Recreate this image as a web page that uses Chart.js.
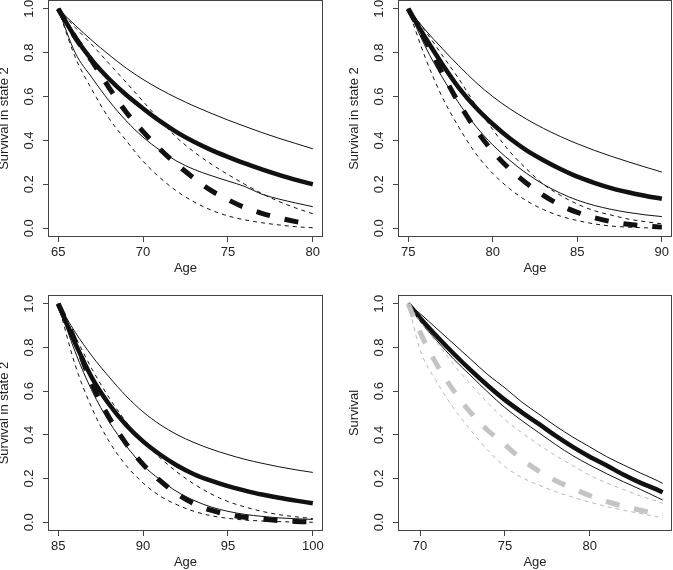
<!DOCTYPE html>
<html>
<head>
<meta charset="utf-8">
<script src="https://cdn.jsdelivr.net/npm/chart.js@4.4.1/dist/chart.umd.min.js"></script>
<style>
  html, body { margin: 0; padding: 0; background: #fff; }
  #wrap { position: relative; width: 673px; height: 570px; overflow: hidden; background: #fff; }
  #wrap canvas { position: absolute; }
</style>
</head>
<body>
<div id="wrap">
  <canvas id="p1"></canvas>
  <canvas id="p2"></canvas>
  <canvas id="p3"></canvas>
  <canvas id="p4"></canvas>
</div>
<script>
// --- Data ---
const yTicks = [0, 0.2, 0.4, 0.6, 0.8, 1.0];

// Panel 1: entry at 65
const p1Ages = [65, 66, 67, 68, 69, 70, 71, 72, 73, 74, 75, 76, 77, 78, 79, 80];
const p1XTicks = [65, 70, 75, 80];
const p1Upper = [1, 0.925, 0.855, 0.79, 0.73, 0.678, 0.633, 0.593, 0.557, 0.524, 0.493, 0.464, 0.436, 0.41, 0.386, 0.362];
const p1Est = [1, 0.87, 0.765, 0.68, 0.608, 0.546, 0.488, 0.437, 0.394, 0.357, 0.325, 0.295, 0.268, 0.243, 0.22, 0.2];
const p1Lower = [1, 0.80, 0.685, 0.58, 0.49, 0.415, 0.355, 0.305, 0.268, 0.24, 0.215, 0.19, 0.155, 0.133, 0.115, 0.098];
const p1Alt = [1, 0.87, 0.76, 0.64, 0.53, 0.44, 0.36, 0.29, 0.228, 0.172, 0.13, 0.094, 0.068, 0.047, 0.03, 0.02];
const p1AltUpper = [1, 0.915, 0.835, 0.75, 0.665, 0.578, 0.492, 0.412, 0.348, 0.293, 0.245, 0.2, 0.158, 0.122, 0.092, 0.066];
const p1AltLower = [1, 0.78, 0.63, 0.50, 0.40, 0.305, 0.23, 0.168, 0.12, 0.083, 0.056, 0.038, 0.025, 0.015, 0.007, 0.002];

// Panel 2: entry at 75
const p2Ages = [75, 76, 77, 78, 79, 80, 81, 82, 83, 84, 85, 86, 87, 88, 89, 90];
const p2XTicks = [75, 80, 85, 90];
const p2Upper = [1, 0.905, 0.82, 0.74, 0.665, 0.6, 0.545, 0.497, 0.455, 0.418, 0.385, 0.355, 0.328, 0.303, 0.279, 0.256];
const p2Est = [1, 0.87, 0.75, 0.64, 0.55, 0.475, 0.41, 0.355, 0.31, 0.27, 0.235, 0.207, 0.183, 0.164, 0.148, 0.134];
const p2Lower = [1, 0.83, 0.69, 0.57, 0.465, 0.38, 0.31, 0.25, 0.20, 0.16, 0.128, 0.104, 0.086, 0.072, 0.061, 0.053];
const p2Alt = [1, 0.86, 0.71, 0.57, 0.45, 0.35, 0.27, 0.205, 0.15, 0.105, 0.072, 0.048, 0.03, 0.018, 0.01, 0.005];
const p2AltUpper = [1, 0.90, 0.79, 0.68, 0.56, 0.45, 0.35, 0.27, 0.20, 0.15, 0.11, 0.08, 0.06, 0.042, 0.03, 0.02];
const p2AltLower = [1, 0.78, 0.60, 0.46, 0.34, 0.25, 0.18, 0.125, 0.085, 0.055, 0.035, 0.02, 0.01, 0.005, 0.002, 0];

// Panel 3: entry at 85
const p3Ages = [85, 86, 87, 88, 89, 90, 91, 92, 93, 94, 95, 96, 97, 98, 99, 100];
const p3XTicks = [85, 90, 95, 100];
const p3Upper = [1, 0.87, 0.76, 0.665, 0.578, 0.505, 0.447, 0.401, 0.365, 0.335, 0.31, 0.288, 0.27, 0.254, 0.24, 0.228];
const p3Est = [1, 0.82, 0.66, 0.54, 0.445, 0.37, 0.31, 0.26, 0.22, 0.19, 0.165, 0.145, 0.127, 0.112, 0.099, 0.087];
const p3Lower = [1, 0.78, 0.60, 0.46, 0.35, 0.26, 0.195, 0.14, 0.10, 0.07, 0.05, 0.036, 0.027, 0.02, 0.016, 0.013];
const p3Alt = [1, 0.83, 0.63, 0.48, 0.36, 0.265, 0.19, 0.13, 0.085, 0.055, 0.036, 0.023, 0.014, 0.008, 0.004, 0.002];
const p3AltUpper = [1, 0.85, 0.70, 0.57, 0.46, 0.37, 0.295, 0.23, 0.175, 0.13, 0.095, 0.07, 0.05, 0.035, 0.025, 0.017];
const p3AltLower = [1, 0.72, 0.52, 0.37, 0.26, 0.18, 0.12, 0.08, 0.05, 0.03, 0.018, 0.01, 0.006, 0.003, 0.001, 0];

// Panel 4: overall survival (black) vs comparison (grey)
const p4Ages = [69.3, 70, 71, 72, 73, 74, 75, 76, 77, 78, 79, 80, 81, 82, 83, 84, 84.3];
const p4XTicks = [70, 75, 80];
const p4Est = [1, 0.935, 0.85, 0.77, 0.695, 0.625, 0.56, 0.503, 0.45, 0.395, 0.345, 0.30, 0.26, 0.217, 0.18, 0.148, 0.137];
const p4Upper = [1, 0.955, 0.885, 0.815, 0.745, 0.675, 0.615, 0.55, 0.495, 0.44, 0.39, 0.345, 0.30, 0.262, 0.225, 0.19, 0.178];
const p4Lower = [1, 0.92, 0.83, 0.745, 0.67, 0.595, 0.525, 0.465, 0.41, 0.355, 0.305, 0.262, 0.222, 0.185, 0.15, 0.113, 0.102];
const p4Alt = [1, 0.87, 0.72, 0.60, 0.50, 0.42, 0.355, 0.288, 0.234, 0.19, 0.155, 0.122, 0.095, 0.073, 0.055, 0.037, 0.033];
const p4AltUpper = [1, 0.92, 0.82, 0.72, 0.63, 0.545, 0.47, 0.41, 0.355, 0.305, 0.26, 0.215, 0.18, 0.15, 0.12, 0.095, 0.087];
const p4AltLower = [1, 0.79, 0.64, 0.52, 0.42, 0.33, 0.255, 0.205, 0.17, 0.14, 0.115, 0.092, 0.072, 0.055, 0.04, 0.025, 0.02];

// --- Layout (page pixels of each plot box) ---
const AXIS_W = 50;   // room left of the box for ticks + title
const AXIS_H = 39;   // room below the box
const PAD = 2;

const FONT = { family: '"Liberation Sans", Arial, Helvetica, sans-serif', size: 13 };
const TEXT_COLOR = '#222';
const FRAME_COLOR = '#444';

Chart.defaults.font.family = FONT.family;
Chart.defaults.font.size = FONT.size;
Chart.defaults.color = TEXT_COLOR;

// full box around plot region, like R's box()
const frameBox = {
    id: 'frameBox',
    afterDraw(chart) {
        const { ctx, chartArea: a } = chart;
        ctx.save();
        ctx.strokeStyle = FRAME_COLOR;
        ctx.lineWidth = 1;
        ctx.strokeRect(Math.round(a.left) + 0.5, Math.round(a.top) + 0.5,
            Math.round(a.right - a.left) - 1, Math.round(a.bottom - a.top) - 1);
        ctx.restore();
    }
};

function toPoints(ages, values) {
    return ages.map((a, i) => ({ x: a, y: values[i] }));
}

function curve(ages, values, width, color, dash) {
    return {
        data: toPoints(ages, values),
        borderColor: color,
        borderWidth: width,
        borderDash: dash || [],
        borderCapStyle: 'butt',
        pointRadius: 0,
        fill: false,
        cubicInterpolationMode: 'monotone'
    };
}

function makePanel(id, box, xMin, xMax, xTicks, yTitle, datasets) {
    const canvas = document.getElementById(id);
    const w = (box.right - box.left) + AXIS_W + PAD;
    const h = (box.bottom - box.top) + AXIS_H + PAD;
    canvas.width = w;
    canvas.height = h;
    canvas.style.left = (box.left - AXIS_W) + 'px';
    canvas.style.top = (box.top - PAD) + 'px';
    canvas.style.width = w + 'px';
    canvas.style.height = h + 'px';

    return new Chart(canvas.getContext('2d'), {
        type: 'line',
        data: { datasets },
        options: {
            responsive: false,
            animation: false,
            devicePixelRatio: 1,
            layout: { padding: { top: PAD, right: PAD, left: 0, bottom: 0 }, autoPadding: false },
            plugins: { legend: { display: false }, tooltip: { enabled: false } },
            scales: {
                x: {
                    type: 'linear',
                    min: xMin,
                    max: xMax,
                    border: { display: false },
                    grid: { drawOnChartArea: false, drawTicks: true, tickLength: 5, color: FRAME_COLOR },
                    ticks: { padding: 3, color: TEXT_COLOR, font: FONT, callback: v => String(v) },
                    title: { display: true, text: 'Age', color: TEXT_COLOR,
                             font: { ...FONT, lineHeight: 1.0 }, padding: { top: 0, bottom: 1 } },
                    afterBuildTicks: scale => { scale.ticks = xTicks.map(v => ({ value: v })); },
                    afterFit: scale => { scale.height = AXIS_H; scale.paddingLeft = 0; scale.paddingRight = 0; }
                },
                y: {
                    type: 'linear',
                    min: -0.04,
                    max: 1.04,
                    border: { display: false },
                    grid: { drawOnChartArea: false, drawTicks: true, tickLength: 5, color: FRAME_COLOR },
                    ticks: { padding: 5, color: TEXT_COLOR, font: FONT, minRotation: 90, maxRotation: 90,
                             crossAlign: 'center', callback: v => v.toFixed(1) },
                    title: { display: true, text: yTitle, color: TEXT_COLOR,
                             font: { ...FONT, lineHeight: 1.0 }, padding: { top: 0, bottom: 0 } },
                    afterBuildTicks: scale => { scale.ticks = yTicks.map(v => ({ value: v })); },
                    afterFit: scale => { scale.width = AXIS_W; scale.paddingTop = 0; scale.paddingBottom = 0; }
                }
            }
        },
        plugins: [frameBox]
    });
}

const BLACK = '#111';
const GREY_THICK = '#c4c4c4';
const GREY_THIN = '#b8b8b8';
const THICK_DASH = [14, 15];
const THIN_DASH = [4, 4];

function stateSets(ages, est, upper, lower, alt, altUpper, altLower) {
    return [
        curve(ages, altUpper, 1, BLACK, THIN_DASH),
        curve(ages, altLower, 1, BLACK, THIN_DASH),
        curve(ages, upper, 1, BLACK),
        curve(ages, lower, 1, BLACK),
        curve(ages, alt, 5, BLACK, THICK_DASH),
        curve(ages, est, 4.5, BLACK)
    ];
}

makePanel('p1', { left: 48, top: 0, right: 323, bottom: 237 }, 64.4, 80.6, p1XTicks, 'Survival in state 2',
    stateSets(p1Ages, p1Est, p1Upper, p1Lower, p1Alt, p1AltUpper, p1AltLower));

makePanel('p2', { left: 398, top: 0, right: 672, bottom: 237 }, 74.4, 90.6, p2XTicks, 'Survival in state 2',
    stateSets(p2Ages, p2Est, p2Upper, p2Lower, p2Alt, p2AltUpper, p2AltLower));

makePanel('p3', { left: 48, top: 295, right: 323, bottom: 531 }, 84.4, 100.6, p3XTicks, 'Survival in state 2',
    stateSets(p3Ages, p3Est, p3Upper, p3Lower, p3Alt, p3AltUpper, p3AltLower));

makePanel('p4', { left: 398, top: 295, right: 672, bottom: 531 }, 68.7, 84.85, p4XTicks, 'Survival', [
    curve(p4Ages, p4AltUpper, 1, GREY_THIN, THIN_DASH),
    curve(p4Ages, p4AltLower, 1, GREY_THIN, THIN_DASH),
    curve(p4Ages, p4Alt, 5, GREY_THICK, THICK_DASH),
    curve(p4Ages, p4Upper, 1, BLACK),
    curve(p4Ages, p4Lower, 1, BLACK),
    curve(p4Ages, p4Est, 4.5, BLACK)
]);
</script>
</body>
</html>
